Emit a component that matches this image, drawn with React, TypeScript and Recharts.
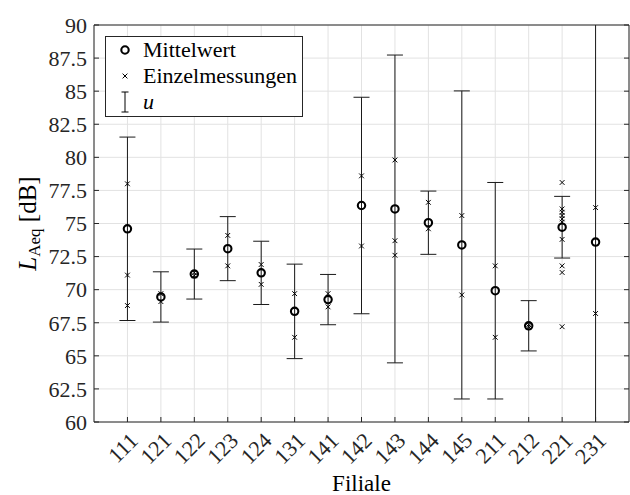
import React from 'react';
import { ComposedChart, Scatter, XAxis, YAxis, CartesianGrid, ErrorBar, Legend, Label } from 'recharts';

const filialen = ['111', '121', '122', '123', '124', '131', '141', '142', '143', '144', '145', '211', '212', '221', '231'];
const mittelwert = [74.6, 69.45, 71.18, 73.1, 71.27, 68.36, 69.25, 76.36, 76.1, 75.06, 73.38, 69.92, 67.27, 74.72, 73.6];
const unsicherheit = [6.93, 1.9, 1.89, 2.42, 2.39, 3.57, 1.9, 8.18, 11.63, 2.39, 11.64, 8.18, 1.9, 2.33, 20];
const einzelmessungen = [
  [78.0, 71.1, 68.8],
  [69.7, 69.1],
  [71.3, 71.05],
  [74.1, 71.8],
  [71.9, 70.4],
  [69.7, 66.4],
  [69.7, 68.7],
  [78.6, 73.3],
  [79.8, 73.7, 72.6],
  [76.6, 74.6],
  [75.6, 69.6],
  [71.8, 66.4],
  [67.35, 67.2],
  [78.1, 76.1, 75.85, 75.6, 75.35, 75.1, 73.8, 71.8, 71.3, 67.2],
  [76.2, 68.2],
];
const yTicks = [60, 62.5, 65, 67.5, 70, 72.5, 75, 77.5, 80, 82.5, 85, 87.5, 90];
const xTicks = filialen.map((_, i) => i + 1);

const meanData = filialen.map((f, i) => ({ x: i + 1, y: mittelwert[i], u: unsicherheit[i] }));
const singleData = einzelmessungen.flatMap((vals, i) => vals.map((v) => ({ x: i + 1, y: v })));

const AXIS = '#262626';
const FONT = '"Liberation Serif", "DejaVu Serif", serif';

const Ring = (props: any) => (
  <circle cx={props.cx} cy={props.cy} r={3.7} fill="none" stroke="#000" strokeWidth={2.1} />
);

const Cross = (props: any) => {
  const { cx, cy } = props;
  const s = 2.4;
  return (
    <path
      d={`M${cx - s},${cy - s}L${cx + s},${cy + s}M${cx - s},${cy + s}L${cx + s},${cy - s}`}
      stroke="#000"
      strokeWidth={1}
    />
  );
};

const XTick = (props: any) => {
  const { x, y, payload } = props;
  return (
    <text
      transform={`translate(${x + 1},${y - 1}) rotate(-45)`}
      textAnchor="end"
      dy="0.7em"
      fontSize={22}
      fill={AXIS}
    >
      {filialen[payload.value - 1]}
    </text>
  );
};

const LegendBox = () => (
  <div
    style={{
      width: 196,
      height: 79,
      border: `1px solid ${AXIS}`,
      background: '#fff',
      fontFamily: FONT,
      fontSize: 22,
      color: '#000',
    }}
  >
    {['Mittelwert', 'Einzelmessungen', 'u'].map((name, i) => (
      <div key={name} style={{ display: 'flex', alignItems: 'center', height: 26 }}>
        <svg width={37} height={26}>
          {i === 0 && <circle cx={19} cy={13} r={3.7} fill="none" stroke="#000" strokeWidth={2.1} />}
          {i === 1 && <path d="M16.6,10.6L21.4,15.4M16.6,15.4L21.4,10.6" stroke="#000" strokeWidth={1} />}
          {i === 2 && <path d="M19,3V23M15.5,3H22.5M15.5,23H22.5" stroke="#000" strokeWidth={1} fill="none" />}
        </svg>
        <span style={{ fontStyle: i === 2 ? 'italic' : 'normal', lineHeight: '26px' }}>{name}</span>
      </div>
    ))}
  </div>
);

export default function App() {
  return (
    <div style={{ position: 'absolute', left: 0, top: 0, fontFamily: FONT, background: '#fff' }}>
      <ComposedChart width={630} height={495} margin={{ top: 24, right: 0, bottom: 0, left: 0 }}>
        <CartesianGrid stroke="#e2e2e2" strokeWidth={1} />
        <XAxis
          xAxisId={0}
          type="number"
          dataKey="x"
          domain={[0, 16]}
          ticks={xTicks}
          allowDataOverflow
          height={73}
          interval={0}
          tickSize={-5}
          tickMargin={15}
          tick={<XTick />}
          stroke={AXIS}
        >
          <Label value="Filiale" position="insideBottom" offset={4} fontSize={23} fill="#000" />
        </XAxis>
        <XAxis
          xAxisId="top"
          orientation="top"
          type="number"
          domain={[0, 16]}
          ticks={xTicks}
          allowDataOverflow
          height={1}
          tickSize={-5}
          tick={() => null}
          stroke={AXIS}
        />
        <YAxis
          yAxisId={0}
          type="number"
          dataKey="y"
          domain={[60, 90]}
          ticks={yTicks}
          allowDataOverflow
          width={94}
          interval={0}
          tickSize={-5}
          tickMargin={12}
          tick={{ fontSize: 22, fill: AXIS }}
          stroke={AXIS}
        >
          <Label
            content={(p: any) => {
              const vb = p.viewBox;
              return (
                <g>
                  <defs>
                    <clipPath id="plotClip">
                      <rect x={0} y={vb.y} width={2000} height={vb.height} />
                    </clipPath>
                  </defs>
                  <text
                    transform={`translate(${vb.x + 36},${vb.y + vb.height / 2}) rotate(-90)`}
                    textAnchor="middle"
                    fontSize={25}
                    fill="#000"
                  >
                    <tspan fontStyle="italic">L</tspan>
                    <tspan fontSize={17} dy={4}>Aeq</tspan>
                    <tspan dy={-4}> [dB]</tspan>
                  </text>
                </g>
              );
            }}
          />
        </YAxis>
        <YAxis
          yAxisId="right"
          orientation="right"
          type="number"
          domain={[60, 90]}
          ticks={yTicks}
          allowDataOverflow
          width={1}
          tickSize={-5}
          tick={() => null}
          stroke={AXIS}
        />
        <Legend
          layout="vertical"
          align="center"
          verticalAlign="middle"
          content={() => <LegendBox />}
          wrapperStyle={{ left: 105, top: 36, width: 198, height: 81 }}
        />
        <Scatter data={singleData} dataKey="y" shape={<Cross />} isAnimationActive={false} />
        <Scatter data={meanData} dataKey="y" shape={<Ring />} isAnimationActive={false}>
          <ErrorBar
            dataKey="u"
            direction="y"
            width={8}
            stroke="#1a1a1a"
            strokeWidth={1}
            clipPath="url(#plotClip)"
          />
        </Scatter>
      </ComposedChart>
    </div>
  );
}
